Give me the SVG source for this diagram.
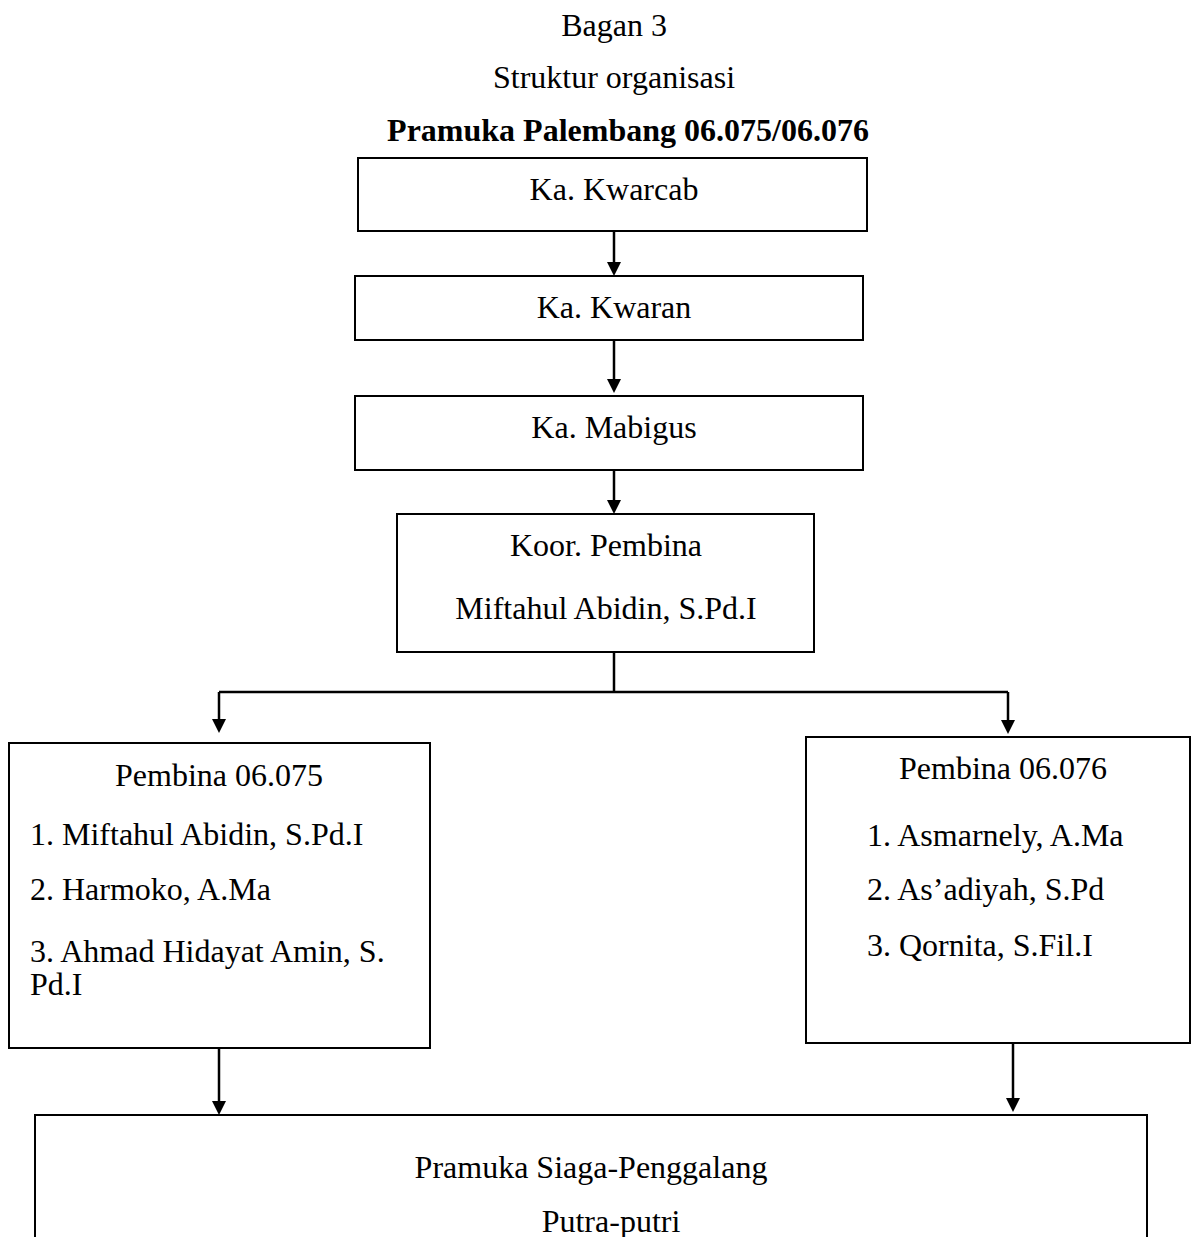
<svg xmlns="http://www.w3.org/2000/svg" width="1200" height="1237" viewBox="0 0 1200 1237">
<style>
text{font-family:"Liberation Serif","Times New Roman",serif;font-size:32px;fill:#000}
.c{text-anchor:middle}
.b{font-weight:bold}
.box{fill:#fff;stroke:#000;stroke-width:2}
.ln{fill:none;stroke:#000;stroke-width:2.5}
</style>
<defs>
<marker id="ah" markerUnits="userSpaceOnUse" markerWidth="16" markerHeight="16" refX="4" refY="7" orient="auto">
<path d="M0,0 L14,7 L0,14 z" fill="#000"/>
</marker>
</defs>
<rect width="1200" height="1237" fill="#fff"/>
<g id="title">
<text class="c" x="614" y="36">Bagan 3</text>
<text class="c" x="614" y="88">Struktur organisasi</text>
<text class="c b" x="628" y="141">Pramuka Palembang 06.075/06.076</text>
</g>
<g id="connectors">
<path class="ln" d="M614,231 V266" marker-end="url(#ah)"/>
<path class="ln" d="M614,340 V383" marker-end="url(#ah)"/>
<path class="ln" d="M614,470 V504" marker-end="url(#ah)"/>
<path class="ln" d="M614,652 V692"/>
<path class="ln" d="M219,692 H1008"/>
<path class="ln" d="M219,692 V723" marker-end="url(#ah)"/>
<path class="ln" d="M1008,692 V724" marker-end="url(#ah)"/>
<path class="ln" d="M219,1049 V1105" marker-end="url(#ah)"/>
<path class="ln" d="M1013,1044 V1102" marker-end="url(#ah)"/>
</g>
<g id="n-kwarcab">
<rect class="box" x="358" y="158" width="509" height="73"/>
<text class="c" x="614" y="200">Ka. Kwarcab</text>
</g>
<g id="n-kwaran">
<rect class="box" x="355" y="276" width="508" height="64"/>
<text class="c" x="614" y="318">Ka. Kwaran</text>
</g>
<g id="n-mabigus">
<rect class="box" x="355" y="396" width="508" height="74"/>
<text class="c" x="614" y="438">Ka. Mabigus</text>
</g>
<g id="n-koor">
<rect class="box" x="397" y="514" width="417" height="138"/>
<text class="c" x="606" y="556">Koor. Pembina</text>
<text class="c" x="606" y="619">Miftahul Abidin, S.Pd.I</text>
</g>
<g id="n-pembina075">
<rect class="box" x="9" y="743" width="421" height="305"/>
<text class="c" x="219" y="786">Pembina 06.075</text>
<text x="30" y="845">1. Miftahul Abidin, S.Pd.I</text>
<text x="30" y="900">2. Harmoko, A.Ma</text>
<text x="30" y="962">3. Ahmad Hidayat Amin, S.</text>
<text x="30" y="995">Pd.I</text>
</g>
<g id="n-pembina076">
<rect class="box" x="806" y="737" width="384" height="306"/>
<text class="c" x="1003" y="779">Pembina 06.076</text>
<text x="867" y="846">1. Asmarnely, A.Ma</text>
<text x="867" y="900">2. As’adiyah, S.Pd</text>
<text x="867" y="956">3. Qornita, S.Fil.I</text>
</g>
<g id="n-siaga">
<rect class="box" x="35" y="1115" width="1112" height="140"/>
<text class="c" x="591" y="1178">Pramuka Siaga-Penggalang</text>
<text class="c" x="611" y="1232">Putra-putri</text>
</g>
</svg>
